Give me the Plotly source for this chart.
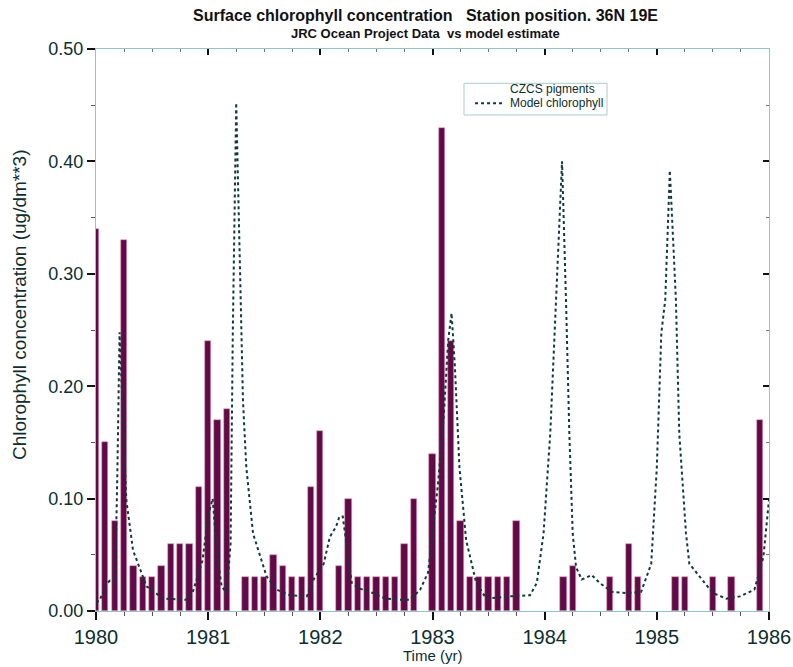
import plotly.graph_objects as go

# ---- data ----
start_year = 1980
czcs_pigments = [
    0.34, 0.15, 0.08, 0.33, 0.04, 0.03, 0.03, 0.04, 0.06, 0.06, 0.06, 0.11,   # 1980
    0.24, 0.17, 0.18, None, 0.03, 0.03, 0.03, 0.05, 0.04, 0.03, 0.03, 0.11,   # 1981
    0.16, None, 0.04, 0.10, 0.03, 0.03, 0.03, 0.03, 0.03, 0.06, 0.10, None,   # 1982
    0.14, 0.43, 0.24, 0.08, 0.03, 0.03, 0.03, 0.03, 0.03, 0.08, None, None,   # 1983
    None, None, 0.03, 0.04, None, None, None, 0.03, None, 0.06, 0.03, None,   # 1984
    None, None, 0.03, 0.03, None, None, 0.03, None, 0.03, None, None, 0.17,   # 1985
]
month_times = [start_year + i / 12 for i in range(len(czcs_pigments))]

model_time = [
    1980.00, 1980.03, 1980.10, 1980.125, 1980.17, 1980.19, 1980.21, 1980.24, 1980.27, 1980.33,
    1980.45, 1980.60, 1980.80, 1980.86, 1980.95, 1981.00, 1981.04, 1981.08, 1981.12, 1981.165,
    1981.20, 1981.22, 1981.25, 1981.29, 1981.31, 1981.34, 1981.40, 1981.52, 1981.61, 1981.73,
    1981.88, 1981.94, 1982.03, 1982.085, 1982.14, 1982.17, 1982.20, 1982.28, 1982.35, 1982.47,
    1982.58, 1982.70, 1982.80, 1982.89, 1982.96, 1983.00, 1983.05, 1983.10, 1983.14, 1983.17,
    1983.20, 1983.24, 1983.30, 1983.39, 1983.48, 1983.69, 1983.87, 1983.93, 1983.99, 1984.05,
    1984.10, 1984.155, 1984.19, 1984.22, 1984.25, 1984.28, 1984.33, 1984.42, 1984.49, 1984.60,
    1984.73, 1984.86, 1984.95, 1985.00, 1985.04, 1985.075, 1985.116, 1985.17, 1985.20, 1985.26,
    1985.29, 1985.38, 1985.50, 1985.62, 1985.74, 1985.87, 1985.95, 1986.00,
]
model_chl = [
    0.008, 0.009, 0.025, 0.027, 0.025, 0.120, 0.248, 0.170, 0.099, 0.054,
    0.022, 0.011, 0.010, 0.016, 0.045, 0.085, 0.100, 0.050, 0.022, 0.016,
    0.060, 0.250, 0.452, 0.277, 0.188, 0.128, 0.069, 0.031, 0.019, 0.014,
    0.013, 0.028, 0.042, 0.066, 0.075, 0.084, 0.084, 0.025, 0.020, 0.016,
    0.011, 0.010, 0.010, 0.019, 0.034, 0.069, 0.114, 0.173, 0.241, 0.265,
    0.217, 0.128, 0.063, 0.025, 0.011, 0.013, 0.014, 0.025, 0.069, 0.158,
    0.277, 0.400, 0.277, 0.158, 0.069, 0.039, 0.028, 0.032, 0.025, 0.017,
    0.016, 0.017, 0.042, 0.128, 0.247, 0.277, 0.392, 0.277, 0.158, 0.069,
    0.042, 0.031, 0.016, 0.011, 0.013, 0.019, 0.048, 0.099,
]

x_ticks = [1980, 1981, 1982, 1983, 1984, 1985, 1986]
y_ticks = [0.0, 0.1, 0.2, 0.3, 0.4, 0.5]
legend_labels = ["CZCS pigments", "Model chlorophyll"]

TXT = "#0b2e2e"
FRAME = "#8cc6c6"
LINE_COL = "#0e3a3a"
FONT = "Liberation Sans, Arial, sans-serif"
NARROW = "Liberation Sans Narrow, Liberation Sans, Arial, sans-serif"

fig = go.Figure()
fig.add_trace(go.Bar(
    x=month_times, y=czcs_pigments, width=0.056,
    marker=dict(color="#620a47", line=dict(color="#e8a0b8", width=0.6)),
    name=legend_labels[0], showlegend=False,
))
fig.add_trace(go.Scatter(
    x=model_time, y=model_chl, mode="lines", name=legend_labels[1],
    line=dict(color=LINE_COL, width=2, dash="dot"), showlegend=False,
))
# invisible trace for mirrored top/right axes
fig.add_trace(go.Scatter(x=[1980], y=[0], xaxis="x2", yaxis="y2",
                         mode="markers", marker=dict(opacity=0),
                         showlegend=False, hoverinfo="skip"))

axis_common = dict(showgrid=False, zeroline=False, showline=True, automargin=False,
                   linecolor=FRAME, linewidth=1, tickcolor="#111", tickwidth=1.5)

# hand-drawn legend box (paper coordinates)
lx0, lx1, ly0, ly1 = 0.5468, 0.7593, 0.8826, 0.939
shapes = [
    dict(type="rect", xref="paper", yref="paper", x0=lx0, x1=lx1, y0=ly0, y1=ly1,
         line=dict(color="#a8cccc", width=1), fillcolor="white", layer="above"),
    dict(type="line", xref="paper", yref="paper", x0=0.5632, x1=0.6048, y0=0.9034, y1=0.9034,
         line=dict(color=LINE_COL, width=2, dash="dot"), layer="above"),
]

fig.update_layout(
    width=793, height=667,
    margin=dict(l=96, r=24, t=49, b=56),
    paper_bgcolor="white", plot_bgcolor="white",
    font=dict(family=FONT, color=TXT),
    bargap=0, showlegend=False,
    xaxis=dict(range=[1980, 1986], tickvals=x_ticks, ticktext=[str(v) for v in x_ticks],
               ticks="outside", ticklen=8,
               minor=dict(dtick=0.25, tick0=1980, ticks="outside", ticklen=4,
                          tickcolor="#555", tickwidth=1),
               tickfont=dict(size=20, color=TXT), **axis_common),
    yaxis=dict(range=[0, 0.5], tickvals=y_ticks, ticktext=[f"{v:.2f}" for v in y_ticks],
               ticks="outside", ticklen=8,
               minor=dict(dtick=0.05, tick0=0, ticks="outside", ticklen=4,
                          tickcolor="#555", tickwidth=1),
               tickfont=dict(size=18, color=TXT), **axis_common),
    xaxis2=dict(range=[1980, 1986], overlaying="x", side="top", tickvals=x_ticks,
                showticklabels=False, ticks="inside", ticklen=6,
                minor=dict(dtick=0.25, tick0=1980, ticks="inside", ticklen=3,
                           tickcolor="#777", tickwidth=1),
                **axis_common),
    yaxis2=dict(range=[0, 0.5], overlaying="y", side="right", tickvals=y_ticks,
                showticklabels=False, ticks="inside", ticklen=6,
                minor=dict(dtick=0.05, tick0=0, ticks="inside", ticklen=3,
                           tickcolor="#777", tickwidth=1),
                **axis_common),
    shapes=shapes,
    annotations=[
        dict(text="<b>Surface chlorophyll concentration   Station position. 36N 19E</b>",
             xref="paper", yref="paper", x=0.49, y=1, yshift=23, showarrow=False,
             font=dict(family=NARROW, size=16, color="#111"), xanchor="center", yanchor="bottom"),
        dict(text="<b>JRC Ocean Project Data  vs model estimate</b>",
             xref="paper", yref="paper", x=0.49, y=1, yshift=6, showarrow=False,
             font=dict(family=NARROW, size=13, color="#111"), xanchor="center", yanchor="bottom"),
        dict(text="Chlorophyll concentration (ug/dm**3)", textangle=-90,
             xref="paper", yref="paper", x=0, xshift=-76, y=0.5445, showarrow=False,
             font=dict(size=19, color=TXT), xanchor="center", yanchor="middle"),
        dict(text="Time (yr)", xref="paper", yref="paper", x=0.5, y=0, yshift=-44,
             showarrow=False, font=dict(size=15, color=TXT),
             xanchor="center", yanchor="middle"),
        dict(text=legend_labels[0], xref="paper", yref="paper", x=0.6122, y=0.9294,
             showarrow=False, font=dict(size=12, color=TXT), xanchor="left", yanchor="middle"),
        dict(text=legend_labels[1], xref="paper", yref="paper", x=0.6122, y=0.9034,
             showarrow=False, font=dict(size=12, color=TXT), xanchor="left", yanchor="middle"),
    ],
)

fig.write_html("out.html", post_script="document.body.style.margin='0px';",
               config={"displayModeBar": False})
